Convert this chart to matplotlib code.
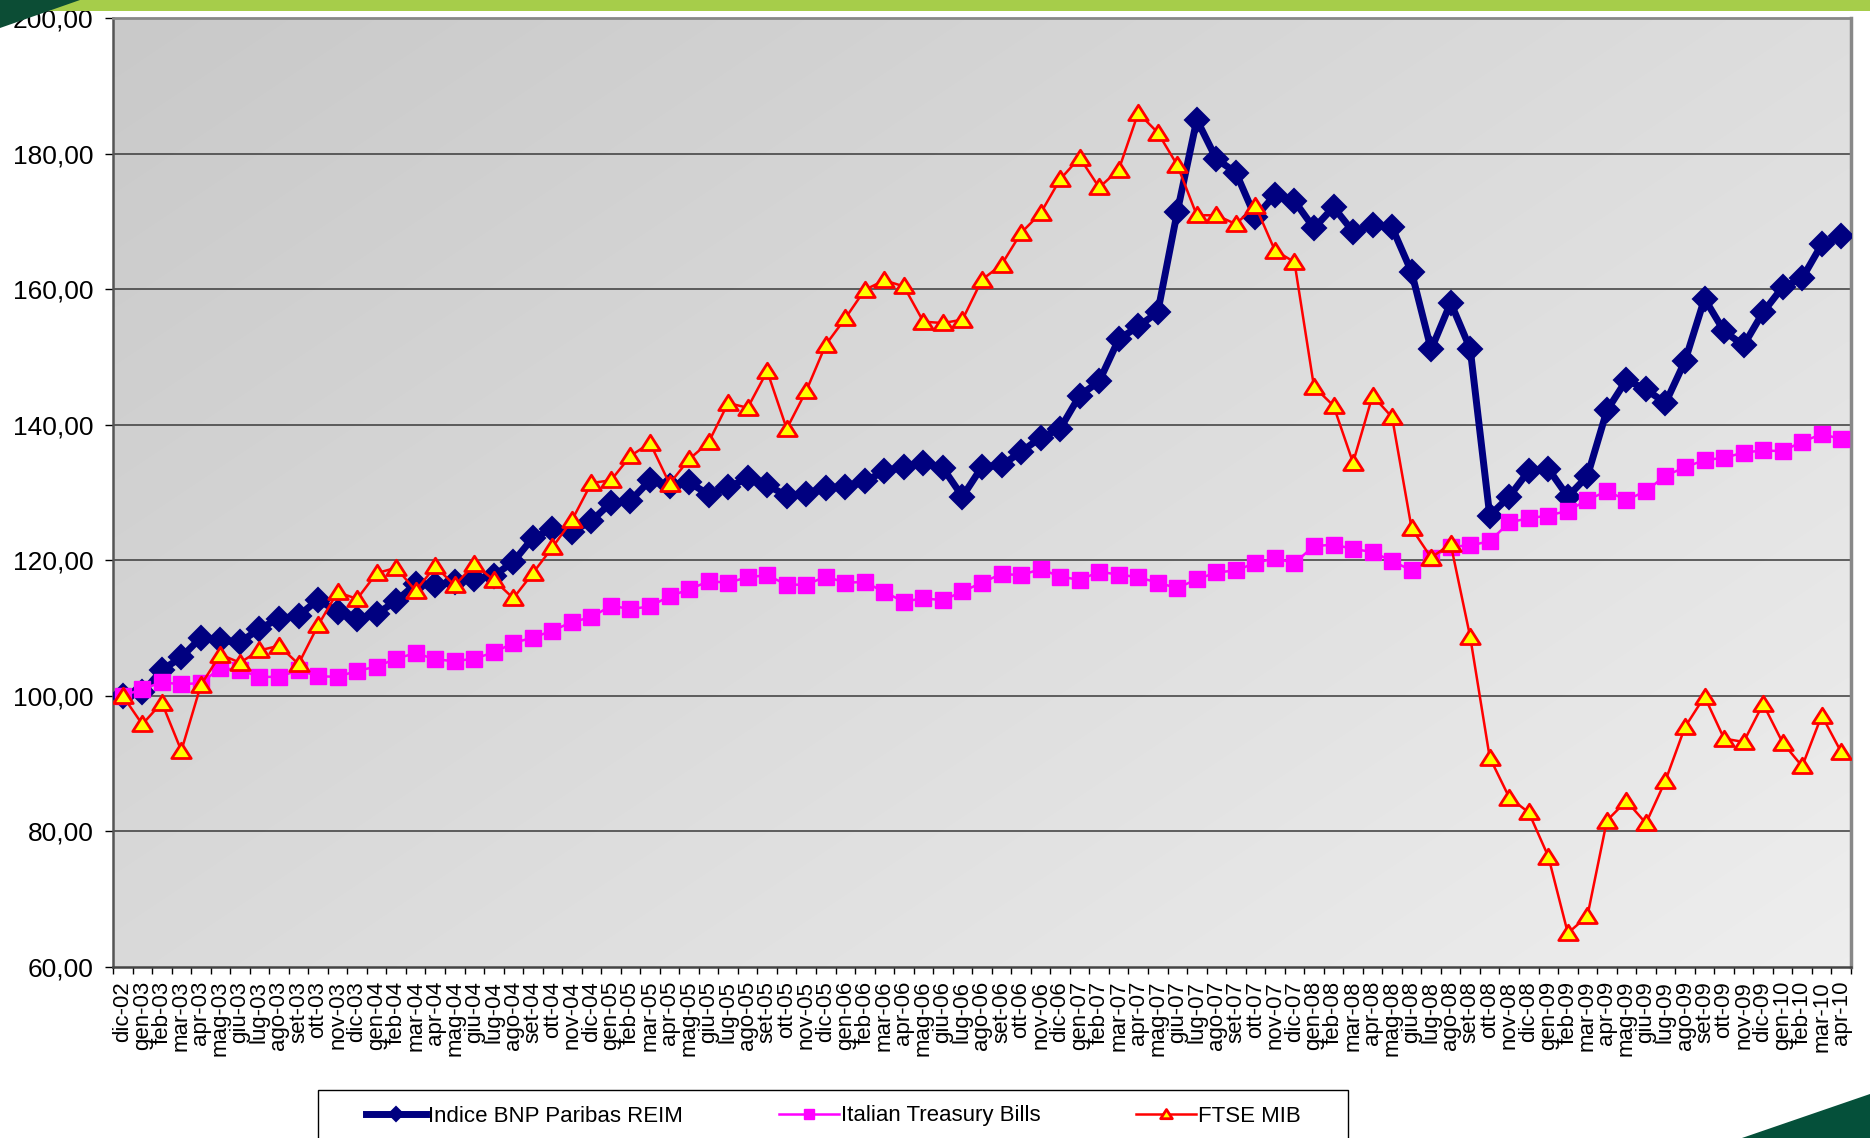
import matplotlib
matplotlib.use("Agg")
import matplotlib.pyplot as plt
import numpy as np
from matplotlib.colors import LinearSegmentedColormap
from matplotlib.patches import Rectangle, Polygon
from matplotlib.ticker import FuncFormatter, FixedLocator
from matplotlib.path import Path

plt.rcParams['font.family'] = ['Liberation Sans', 'DejaVu Sans']

# ---------------- data ----------------
mesi = ["gen", "feb", "mar", "apr", "mag", "giu", "lug", "ago", "set", "ott", "nov", "dic"]
categories = ["dic-02"] + [f"{m}-{y:02d}" for y in range(3, 10) for m in mesi] + \
             ["gen-10", "feb-10", "mar-10", "apr-10"]

bnp_reim = [100.0, 100.5, 103.8, 105.7, 108.6, 108.2, 107.9, 109.9, 111.4, 111.8,
            114.2, 112.4, 111.3, 112.1, 114.0, 116.5, 116.3, 116.8, 117.3, 117.7,
            119.8, 123.3, 124.6, 124.2, 125.8, 128.5, 128.8, 131.8, 131.0, 131.5,
            129.7, 130.8, 132.1, 131.1, 129.5, 129.8, 130.7, 130.8, 131.7, 133.1,
            133.8, 134.4, 133.6, 129.4, 133.8, 134.0, 136.0, 138.1, 139.4, 144.3,
            146.4, 152.6, 154.5, 156.6, 171.4, 185.0, 179.2, 177.2, 170.6, 173.9,
            173.0, 169.0, 172.1, 168.5, 169.4, 169.1, 162.5, 151.1, 158.0, 151.2,
            126.6, 129.4, 133.2, 133.5, 129.4, 132.4, 142.1, 146.6, 145.2, 143.2,
            149.4, 158.6, 153.8, 151.7, 156.6, 160.3, 161.6, 166.6, 167.8]

treasury_bills = [100.0, 101.0, 102.0, 101.7, 101.9, 104.1, 103.8, 102.8, 102.8, 103.8,
                  102.9, 102.8, 103.7, 104.3, 105.5, 106.3, 105.4, 105.1, 105.5, 106.4,
                  107.8, 108.6, 109.6, 110.9, 111.6, 113.3, 112.8, 113.2, 114.7, 115.7,
                  116.9, 116.7, 117.5, 117.8, 116.4, 116.4, 117.6, 116.7, 116.8, 115.3,
                  113.9, 114.4, 114.1, 115.4, 116.7, 118.0, 117.8, 118.7, 117.6, 117.1,
                  118.3, 117.9, 117.5, 116.7, 115.9, 117.2, 118.2, 118.5, 119.6, 120.3,
                  119.6, 122.1, 122.3, 121.7, 121.2, 119.9, 118.5, 120.4, 122.0, 122.2,
                  122.8, 125.6, 126.2, 126.6, 127.3, 128.9, 130.2, 128.9, 130.2, 132.5,
                  133.7, 134.8, 135.1, 135.9, 136.2, 136.1, 137.5, 138.6, 137.9]

ftse_mib = [100.0, 95.8, 99.0, 91.9, 101.6, 106.1, 104.9, 106.7, 107.4, 104.7,
            110.4, 115.3, 114.3, 118.1, 118.9, 115.5, 119.1, 116.3, 119.4, 117.1,
            114.4, 118.1, 121.9, 125.9, 131.4, 131.8, 135.4, 137.3, 131.3, 134.9,
            137.4, 143.2, 142.5, 147.9, 139.4, 145.0, 151.8, 155.7, 159.9, 161.3,
            160.4, 155.2, 155.0, 155.5, 161.4, 163.6, 168.3, 171.2, 176.2, 179.4,
            175.0, 177.6, 186.0, 183.1, 178.3, 170.9, 170.9, 169.6, 172.3, 165.7,
            164.0, 145.6, 142.8, 134.4, 144.3, 141.1, 124.7, 120.4, 122.4, 108.7,
            90.9, 85.0, 82.8, 76.3, 65.0, 67.5, 81.6, 84.5, 81.2, 87.5,
            95.4, 99.9, 93.7, 93.2, 98.8, 93.1, 89.6, 97.1, 91.7]

series_names = ["Indice BNP Paribas REIM", "Italian Treasury Bills", "FTSE MIB"]
y_ticks = [60, 80, 100, 120, 140, 160, 180, 200]

# ---------------- figure ----------------
W, H = 1870, 1138
fig = plt.figure(figsize=(W / 100, H / 100), dpi=100)
fig.patch.set_facecolor("white")

# decorations
fig.patches.append(Rectangle((0, 1 - 11 / H), 1, 11 / H, transform=fig.transFigure,
                             facecolor="#a6cd4a", edgecolor="none", zorder=0))
fig.patches.append(Polygon([(0, 1), (80 / W, 1), (0, 1 - 28 / H)], closed=True,
                           transform=fig.transFigure, facecolor="#0c4d35",
                           edgecolor="none", zorder=1))
fig.patches.append(Polygon([(1742 / W, 0), (1, 44 / H), (1, 0)], closed=True,
                           transform=fig.transFigure, facecolor="#05503a",
                           edgecolor="none", zorder=1))

left, right, top, bottom = 113, 1851, 18, 967
ax = fig.add_axes([left / W, 1 - bottom / H, (right - left) / W, (bottom - top) / H])

n = len(categories)
x = np.arange(n)

# gradient background
gx, gy = np.meshgrid(np.linspace(0, 1, 256), np.linspace(0, 1, 256))
grad = 0.55 * gx + 0.45 * gy  # gy=0 is top row (origin upper)
cmap = LinearSegmentedColormap.from_list("bg", ["#c9c9c9", "#eeeeee"])
ax.imshow(grad, extent=[-0.5, n - 0.5, 60, 200], aspect="auto", cmap=cmap,
          origin="upper", zorder=0, interpolation="bilinear")

for yv in y_ticks[1:-1]:
    ax.axhline(yv, color="#3a3a3a", lw=1.1, zorder=1)

tri = Path([(-1, -0.72), (1, -0.72), (0, 0.85), (-1, -0.72)],
           [Path.MOVETO, Path.LINETO, Path.LINETO, Path.CLOSEPOLY])

l1, = ax.plot(x, bnp_reim, color="#000080", lw=5, marker="D", ms=12,
              mfc="#000080", mec="#000080", mew=1.5, zorder=3,
              label=series_names[0], solid_joinstyle="round")
l2, = ax.plot(x, treasury_bills, color="#ff00ff", lw=1.8, marker="s", ms=11,
              mfc="#ff00ff", mec="#ff00ff", mew=1, zorder=4, label=series_names[1])
l3, = ax.plot(x, ftse_mib, color="#ff0000", lw=1.8, marker=tri, ms=14,
              mfc="#ffff00", mec="#ff0000", mew=2, zorder=5, label=series_names[2])

ax.set_xlim(-0.5, n - 0.5)
ax.set_ylim(60, 200)

ax.set_yticks(y_ticks)
ax.yaxis.set_major_formatter(FuncFormatter(lambda v, p: f"{v:.2f}".replace(".", ",")))
ax.tick_params(axis="y", direction="out", length=6, width=1, color="#000000",
               labelsize=19, pad=8)

ax.set_xticks(x)
ax.set_xticklabels(categories, rotation=90, fontsize=16)
ax.xaxis.set_minor_locator(FixedLocator(np.arange(n + 1) - 0.5))
ax.tick_params(axis="x", which="major", length=0, pad=10)
ax.tick_params(axis="x", which="minor", direction="out", length=5, width=1, color="#000000")

ax.spines["left"].set_color("#555555")
ax.spines["left"].set_linewidth(1.8)
ax.spines["top"].set_color("#888888")
ax.spines["top"].set_linewidth(2)
ax.spines["right"].set_color("#888888")
ax.spines["right"].set_linewidth(2.5)
ax.spines["bottom"].set_color("#444444")
ax.spines["bottom"].set_linewidth(1.8)

# legend box
fig.patches.append(Rectangle((318 / W, -2 / H), 1030 / W, 50 / H, transform=fig.transFigure,
                             facecolor="white", edgecolor="#000000", lw=1, zorder=2))
leg = fig.legend(handles=[l1, l2, l3], labels=series_names, ncol=3, frameon=False,
                 loc="center left", bbox_to_anchor=(366 / W, 1 - 1116 / H),
                 fontsize=16, handlelength=2.7, handletextpad=0.1, columnspacing=4.3,
                 borderpad=0, borderaxespad=0, markerscale=0.6)
leg.set_zorder(3)

fig.savefig("out.png", dpi=100, facecolor="white")
